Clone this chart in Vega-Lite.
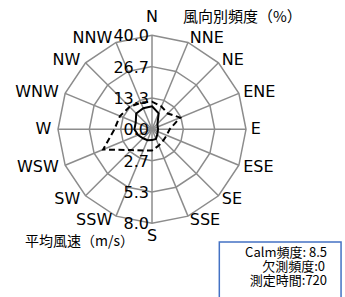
{
  "$schema": "https://vega.github.io/schema/vega-lite/v6.json",
  "width": 345,
  "height": 297,
  "padding": 0,
  "autosize": {"type": "none"},
  "background": "white",
  "config": {"view": {"stroke": null}, "text": {"font": "DejaVu Sans", "fontSize": 16, "color": "black"}},
  "datasets": {
    "wind": [
      {"dir": "N", "idx": 0, "freq": 9.8, "speed": 2.35},
      {"dir": "NNE", "idx": 1, "freq": 7.4, "speed": 2.1},
      {"dir": "NE", "idx": 2, "freq": 3.3, "speed": 1.9},
      {"dir": "ENE", "idx": 3, "freq": 2.6, "speed": 2.6},
      {"dir": "E", "idx": 4, "freq": 2.6, "speed": 1.5},
      {"dir": "ESE", "idx": 5, "freq": 2.6, "speed": 1.35},
      {"dir": "SE", "idx": 6, "freq": 3.2, "speed": 1.35},
      {"dir": "SSE", "idx": 7, "freq": 4.4, "speed": 1.5},
      {"dir": "S", "idx": 8, "freq": 4.6, "speed": 1.8},
      {"dir": "SSW", "idx": 9, "freq": 5.0, "speed": 1.95},
      {"dir": "SW", "idx": 10, "freq": 5.4, "speed": 2.5},
      {"dir": "WSW", "idx": 11, "freq": 6.4, "speed": 4.5},
      {"dir": "W", "idx": 12, "freq": 7.5, "speed": 3.2},
      {"dir": "WNW", "idx": 13, "freq": 7.5, "speed": 2.95},
      {"dir": "NW", "idx": 14, "freq": 9.5, "speed": 2.7},
      {"dir": "NNW", "idx": 15, "freq": 9.7, "speed": 2.45}
    ],
    "rings": [
      {"ring": 13.333, "idx": [0, 1, 2, 3, 4, 5, 6, 7, 8, 9, 10, 11, 12, 13, 14, 15]},
      {"ring": 26.667, "idx": [0, 1, 2, 3, 4, 5, 6, 7, 8, 9, 10, 11, 12, 13, 14, 15]},
      {"ring": 40, "idx": [0, 1, 2, 3, 4, 5, 6, 7, 8, 9, 10, 11, 12, 13, 14, 15]}
    ],
    "ticks": [
      {"label": "40.0", "axis": "freq", "value": 40},
      {"label": "26.7", "axis": "freq", "value": 26.667},
      {"label": "13.3", "axis": "freq", "value": 13.333},
      {"label": "0.0", "axis": "freq", "value": 0},
      {"label": "2.7", "axis": "speed", "value": 2.667},
      {"label": "5.3", "axis": "speed", "value": 5.333},
      {"label": "8.0", "axis": "speed", "value": 8}
    ],
    "one": [{}]
  },
  "layer": [
    {
      "data": {"name": "rings"},
      "transform": [
        {"flatten": ["idx"]},
        {"calculate": "datum.ring / 40 * sin(datum.idx * PI / 8)", "as": "px"},
        {"calculate": "datum.ring / 40 * cos(datum.idx * PI / 8)", "as": "py"}
      ],
      "mark": {"type": "line", "interpolate": "linear-closed", "stroke": "#8c8c8c", "strokeWidth": 1.5},
      "encoding": {
        "x": {"field": "px", "type": "quantitative", "scale": {"domain": [-1.617, 2.053], "nice": false, "zero": false}, "axis": null},
        "y": {"field": "py", "type": "quantitative", "scale": {"domain": [-1.784, 1.3755], "nice": false, "zero": false}, "axis": null},
        "detail": {"field": "ring", "type": "nominal"},
        "order": {"field": "idx", "type": "quantitative"}
      }
    },
    {
      "data": {"name": "wind"},
      "transform": [
        {"calculate": "sin(datum.idx * PI / 8)", "as": "sx"},
        {"calculate": "cos(datum.idx * PI / 8)", "as": "sy"}
      ],
      "mark": {"type": "rule", "stroke": "#8c8c8c", "strokeWidth": 1.5},
      "encoding": {
        "x": {"field": "sx", "type": "quantitative"},
        "y": {"field": "sy", "type": "quantitative"},
        "x2": {"datum": 0},
        "y2": {"datum": 0}
      }
    },
    {
      "data": {"name": "wind"},
      "transform": [
        {"calculate": "datum.speed / 8 * sin(datum.idx * PI / 8)", "as": "px"},
        {"calculate": "datum.speed / 8 * cos(datum.idx * PI / 8)", "as": "py"}
      ],
      "mark": {"type": "line", "interpolate": "linear-closed", "stroke": "black", "strokeWidth": 2, "strokeDash": [6, 3.5]},
      "encoding": {
        "x": {"field": "px", "type": "quantitative"},
        "y": {"field": "py", "type": "quantitative"},
        "order": {"field": "idx", "type": "quantitative"}
      }
    },
    {
      "data": {"name": "wind"},
      "transform": [
        {"calculate": "datum.freq / 40 * sin(datum.idx * PI / 8)", "as": "px"},
        {"calculate": "datum.freq / 40 * cos(datum.idx * PI / 8)", "as": "py"}
      ],
      "mark": {"type": "line", "interpolate": "linear-closed", "stroke": "black", "strokeWidth": 2},
      "encoding": {
        "x": {"field": "px", "type": "quantitative"},
        "y": {"field": "py", "type": "quantitative"},
        "order": {"field": "idx", "type": "quantitative"}
      }
    },
    {
      "data": {"name": "ticks"},
      "transform": [
        {"calculate": "datum.axis == 'freq' ? datum.value / 40 : -datum.value / 8", "as": "py"}
      ],
      "mark": {"type": "text", "align": "right", "baseline": "middle", "dx": -3, "dy": 1},
      "encoding": {
        "x": {"datum": 0},
        "y": {"field": "py", "type": "quantitative"},
        "text": {"field": "label"}
      }
    },
    {
      "data": {"name": "wind"},
      "transform": [
        {"filter": "datum.idx >= 1 && datum.idx <= 7"},
        {"calculate": "1.05 * sin(datum.idx * PI / 8)", "as": "lx"},
        {"calculate": "1.05 * cos(datum.idx * PI / 8)", "as": "ly"}
      ],
      "mark": {"type": "text", "align": "left", "baseline": "middle"},
      "encoding": {
        "x": {"field": "lx", "type": "quantitative"},
        "y": {"field": "ly", "type": "quantitative"},
        "text": {"field": "dir"}
      }
    },
    {
      "data": {"name": "wind"},
      "transform": [
        {"filter": "datum.idx >= 9"},
        {"calculate": "1.05 * sin(datum.idx * PI / 8)", "as": "lx"},
        {"calculate": "1.05 * cos(datum.idx * PI / 8)", "as": "ly"}
      ],
      "mark": {"type": "text", "align": "right", "baseline": "middle", "dx": -2},
      "encoding": {
        "x": {"field": "lx", "type": "quantitative"},
        "y": {"field": "ly", "type": "quantitative"},
        "text": {"field": "dir"}
      }
    },
    {
      "data": {"name": "wind"},
      "transform": [
        {"filter": "datum.idx == 0 || datum.idx == 8"},
        {"calculate": "datum.idx == 0 ? 1.198 : -1.14", "as": "ly"}
      ],
      "mark": {"type": "text", "align": "center", "baseline": "middle"},
      "encoding": {
        "x": {"datum": 0},
        "y": {"field": "ly", "type": "quantitative"},
        "text": {"field": "dir"}
      }
    },
    {
      "data": {"name": "one"},
      "mark": {"type": "text", "text": "風向別頻度（%）", "font": "Noto Sans CJK JP", "fontSize": 15, "align": "left", "baseline": "middle"},
      "encoding": {"x": {"datum": 0.33}, "y": {"datum": 1.195}}
    },
    {
      "data": {"name": "one"},
      "mark": {"type": "text", "text": "平均風速（m/s）", "font": "Noto Sans CJK JP", "fontSize": 14, "align": "left", "baseline": "middle"},
      "encoding": {"x": {"datum": -1.351}, "y": {"datum": -1.2}}
    },
    {
      "data": {"name": "one"},
      "mark": {"type": "rect", "fill": "white", "stroke": "#4472C4", "strokeWidth": 1.5},
      "encoding": {"x": {"datum": 0.716}, "x2": {"datum": 2.011}, "y": {"datum": -1.199}, "y2": {"datum": -1.9}}
    },
    {
      "data": {"name": "one"},
      "mark": {"type": "text", "text": "Calm頻度: 8.5", "font": "Noto Sans CJK JP", "fontSize": 13, "align": "right", "baseline": "middle"},
      "encoding": {"x": {"datum": 1.862}, "y": {"datum": -1.316}}
    },
    {
      "data": {"name": "one"},
      "mark": {"type": "text", "text": "欠測頻度:0", "font": "Noto Sans CJK JP", "fontSize": 13, "align": "right", "baseline": "middle"},
      "encoding": {"x": {"datum": 1.84}, "y": {"datum": -1.465}}
    },
    {
      "data": {"name": "one"},
      "mark": {"type": "text", "text": "測定時間:720", "font": "Noto Sans CJK JP", "fontSize": 13, "align": "right", "baseline": "middle"},
      "encoding": {"x": {"datum": 1.862}, "y": {"datum": -1.614}}
    }
  ]
}
